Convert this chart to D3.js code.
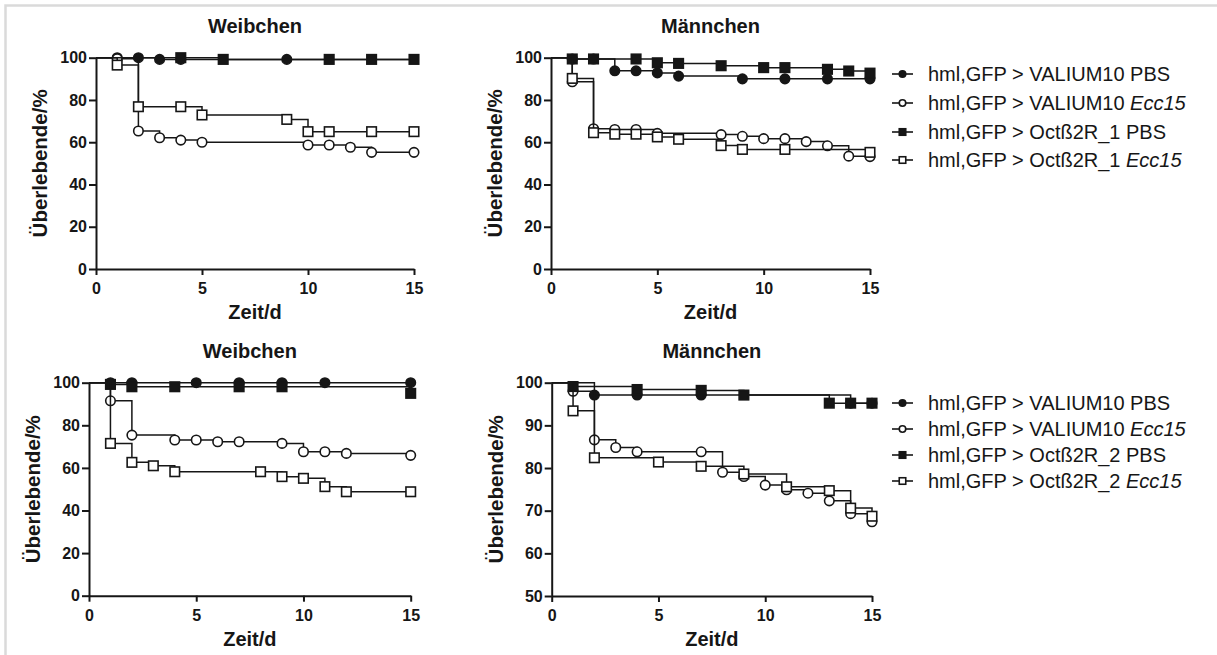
<!DOCTYPE html>
<html><head><meta charset="utf-8">
<script src="https://cdn.jsdelivr.net/npm/d3@7"></script>
<style>body{margin:0;background:#fff}svg{display:block}</style>
</head><body><svg id="c" width="1217" height="655"></svg>
<script>
// ---------- data ----------
const dayTicks = [0, 5, 10, 15];
const yTicksFull = [0, 20, 40, 60, 80, 100];
const yTicksHalf = [50, 60, 70, 80, 90, 100];
const panelTitles = ["Weibchen", "Männchen", "Weibchen", "Männchen"];
const xLabel = "Zeit/d";
const yLabel = "Überlebende/%";

const legendTop = [["hml,GFP > VALIUM10 ", "", "PBS"], ["hml,GFP > VALIUM10 ", "Ecc15", ""],
                   ["hml,GFP > Octß2R_1 ", "", "PBS"], ["hml,GFP > Octß2R_1 ", "Ecc15", ""]];
const legendBottom = [["hml,GFP > VALIUM10 ", "", "PBS"], ["hml,GFP > VALIUM10 ", "Ecc15", ""],
                      ["hml,GFP > Octß2R_2 ", "", "PBS"], ["hml,GFP > Octß2R_2 ", "Ecc15", ""]];
const markerTypes = ["fc", "oc", "fs", "os"];

// panel 1: Weibchen, Octß2R_1  [day, % survival]
const p1ValPBS   = [[1,100],[2,100],[3,99.2],[4,99.2],[9,99.2]];
const p1ValEcc   = [[1,99.5],[2,65.3],[3,62.1],[4,61],[5,60],[10,58.7],[11,58.7],[12,57.6],[13,55.2],[15,55.2]];
const p1OctPBS   = [[4,100],[6,99.2],[11,99.2],[13,99.2],[15,99.2]];
const p1OctEcc   = [[1,96.5],[2,76.8],[4,76.8],[5,72.9],[9,70.8],[10,65],[11,65],[13,65],[15,65]];
// panel 2: Männchen, Octß2R_1
const p2ValPBS   = [[1,99.4],[2,99.4],[3,93.8],[4,93.8],[5,92.8],[6,91.3],[9,90],[11,90],[13,90],[15,90]];
const p2ValEcc   = [[1,88.6],[2,66.4],[3,66],[4,66],[5,64.2],[8,63.6],[9,62.8],[10,61.7],[11,61.7],[12,60.3],[13,58.3],[14,53.4],[15,53.2]];
const p2OctPBS   = [[1,99.4],[2,99.4],[4,99.4],[5,97.6],[6,97.3],[8,96.2],[10,95.3],[11,95.3],[13,94.5],[14,93.7],[15,92.7]];
const p2OctEcc   = [[1,90.2],[2,64.5],[3,63.8],[4,63.8],[5,62.5],[6,61.4],[8,58.4],[9,56.6],[11,56.6],[15,55.2]];
// panel 3: Weibchen, Octß2R_2
const p3ValPBS   = [[1,100],[2,100],[5,100],[7,100],[9,100],[11,100],[15,100]];
const p3ValEcc   = [[1,91.5],[2,75.4],[4,73.1],[5,73.1],[6,72.3],[7,72.3],[9,71.5],[10,67.6],[11,67.6],[12,66.8],[15,65.9]];
const p3OctPBS   = [[1,99.2],[2,98.1],[4,98.1],[7,98.1],[9,98.1],[15,95]];
const p3OctEcc   = [[1,71.5],[2,62.6],[3,61],[4,58.2],[8,58.2],[9,55.9],[10,55.1],[11,51.2],[12,48.8],[15,48.8]];
// panel 4: Männchen, Octß2R_2
const p4ValPBS   = [[2,97.1],[4,97.1],[7,97.1],[14,95.2],[15,95.2]];
const p4ValEcc   = [[1,98],[2,86.6],[3,84.8],[4,83.8],[7,83.8],[8,79],[9,78],[10,76],[11,74.9],[12,74.1],[13,72.3],[14,69.3],[15,67.4]];
const p4OctPBS   = [[1,99.1],[4,98.4],[7,98.2],[9,97.1],[13,95.2],[14,95.2],[15,95.2]];
const p4OctEcc   = [[1,93.4],[2,82.4],[5,81.4],[7,80.4],[9,78.6],[11,75.6],[13,74.7],[14,70.6],[15,68.7]];

// ---------- drawing ----------
const FONT = "'Liberation Sans', Arial, Helvetica, sans-serif";
const INK = "#161616";
const svg = d3.select("#c");
svg.append("rect").attr("width",1217).attr("height",655).attr("fill","#fff");
svg.append("rect").attr("x",5.5).attr("y",5.5).attr("width",1400).attr("height",900)
   .attr("fill","none").attr("stroke","#dadada").attr("stroke-width",2.5);

const panels = [
  {l:96,   r:414,   t:57.7,  b:269,   yd:[0,100],  yt:yTicksFull, title:panelTitles[0], series:[p1ValPBS,p1ValEcc,p1OctPBS,p1OctEcc]},
  {l:551,  r:870,   t:57.7,  b:269,   yd:[0,100],  yt:yTicksFull, title:panelTitles[1], series:[p2ValPBS,p2ValEcc,p2OctPBS,p2OctEcc]},
  {l:89,   r:410.7, t:382.7, b:595.7, yd:[0,100],  yt:yTicksFull, title:panelTitles[2], series:[p3ValPBS,p3ValEcc,p3OctPBS,p3OctEcc]},
  {l:551.7,r:872,   t:382.7, b:596,   yd:[50,100], yt:yTicksHalf, title:panelTitles[3], series:[p4ValPBS,p4ValEcc,p4OctPBS,p4OctEcc]}
];

function drawMarker(g, type, cx, cy, size) {
  const filled = type[0] === "f";
  if (type[1] === "c") {
    g.append("circle").attr("cx",cx).attr("cy",cy).attr("r",size/2)
     .attr("fill", filled ? INK : "#fff").attr("stroke",INK).attr("stroke-width",1.6);
  } else {
    g.append("rect").attr("x",cx-size/2).attr("y",cy-size/2).attr("width",size).attr("height",size)
     .attr("fill", filled ? INK : "#fff").attr("stroke",INK).attr("stroke-width",1.6);
  }
}

panels.forEach(p => {
  const x = d3.scaleLinear().domain([0,15]).range([p.l, p.r]);
  const y = d3.scaleLinear().domain(p.yd).range([p.b, p.t]);
  const g = svg.append("g");

  // series
  const line = d3.line().x(d => x(d[0])).y(d => y(d[1])).curve(d3.curveStepAfter);
  p.series.forEach((s, i) => {
    const pts = [[0, p.yd[1]], ...s];
    const last = s[s.length-1];
    if (last[0] < 15) pts.push([15, last[1]]);
    g.append("path").attr("d", line(pts)).attr("fill","none").attr("stroke",INK).attr("stroke-width",1.5);
    const mg = g.append("g");
    s.forEach(d => drawMarker(mg, markerTypes[i], x(d[0]), y(d[1]), 9.5));
  });

  // axes
  const ax = g.append("g").attr("transform",`translate(0,${p.b})`)
    .call(d3.axisBottom(x).tickValues(dayTicks).tickSize(6).tickSizeOuter(0).tickPadding(8));
  const ay = g.append("g").attr("transform",`translate(${p.l},0)`)
    .call(d3.axisLeft(y).tickValues(p.yt).tickSize(7).tickSizeOuter(0).tickPadding(2));
  [ax, ay].forEach(a => {
    a.select(".domain").attr("stroke",INK).attr("stroke-width",2);
    a.selectAll(".tick line").attr("stroke",INK).attr("stroke-width",2);
    a.selectAll(".tick text").attr("fill",INK).attr("font-family",FONT)
      .attr("font-size",16).attr("font-weight","bold");
  });

  // labels
  g.append("text").attr("x",(p.l+p.r)/2).attr("y",p.t-25).attr("text-anchor","middle")
    .attr("font-family",FONT).attr("font-size",20).attr("font-weight","bold").attr("fill",INK).text(p.title);
  g.append("text").attr("x",(p.l+p.r)/2).attr("y",p.b+50).attr("text-anchor","middle")
    .attr("font-family",FONT).attr("font-size",20).attr("font-weight","bold").attr("fill",INK).text(xLabel);
  g.append("text").attr("transform",`translate(${p.l-56},${(p.t+p.b)/2}) rotate(-90)`)
    .attr("text-anchor","middle").attr("dy","0.36em")
    .attr("font-family",FONT).attr("font-size",20.5).attr("font-weight","bold").attr("fill",INK).text(yLabel);
});

// legends
function drawLegend(items, rows) {
  const g = svg.append("g");
  items.forEach((it, i) => {
    const cy = rows[i];
    g.append("line").attr("x1",892).attr("x2",913).attr("y1",cy).attr("y2",cy)
      .attr("stroke",INK).attr("stroke-width",1.6);
    drawMarker(g, markerTypes[i], 902.5, cy, 6.5);
    const t = g.append("text").attr("x",928).attr("y",cy+7)
      .attr("font-family",FONT).attr("font-size",20).attr("fill",INK);
    t.append("tspan").text(it[0]);
    if (it[1]) t.append("tspan").attr("font-style","italic").text(it[1]);
    if (it[2]) t.append("tspan").text(it[2]);
  });
}
drawLegend(legendTop, [74, 103, 132, 160]);
drawLegend(legendBottom, [403, 429, 455, 481]);
</script></body></html>
